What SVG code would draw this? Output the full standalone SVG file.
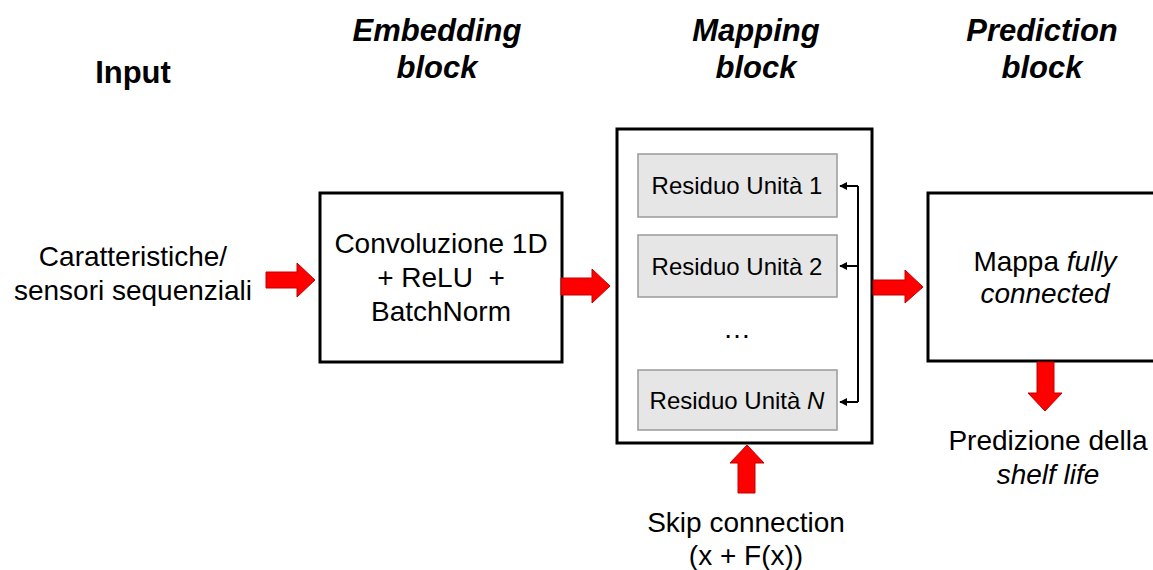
<svg xmlns="http://www.w3.org/2000/svg" width="1153" height="570" viewBox="0 0 1153 570">
<defs>
<style>
.title{font-family:"Liberation Sans",Arial,sans-serif;font-size:31px;font-weight:bold;fill:#000}
.ti{font-style:italic}
.body{font-family:"Liberation Sans",Arial,sans-serif;font-size:28px;fill:#000}
.res{font-family:"Liberation Sans",Arial,sans-serif;font-size:24px;fill:#000}
.box{fill:#fff;stroke:#000;stroke-width:3}
.unit{fill:#e6e6e6;stroke:#9a9a9a;stroke-width:1.5}
.red{fill:#ff0000;stroke:#c00000;stroke-width:1}
.blk{fill:none;stroke:#000;stroke-width:2}
</style>
<marker id="ah" viewBox="0 0 10 10" refX="9" refY="5" markerWidth="4" markerHeight="4" orient="auto" markerUnits="strokeWidth">
<path d="M0,0 L10,5 L0,10 z" fill="#000"/>
</marker>
</defs>
<rect width="1153" height="570" fill="#fff"/>

<g id="titles">
<text class="title" x="133" y="83" text-anchor="middle">Input</text>
<text class="title ti" x="437" y="41" text-anchor="middle">Embedding</text>
<text class="title ti" x="437" y="78" text-anchor="middle">block</text>
<text class="title ti" x="756" y="41" text-anchor="middle">Mapping</text>
<text class="title ti" x="756" y="78" text-anchor="middle">block</text>
<text class="title ti" x="1042" y="41" text-anchor="middle">Prediction</text>
<text class="title ti" x="1042" y="78" text-anchor="middle">block</text>
</g>

<g id="input">
<text class="body" x="133" y="266" text-anchor="middle">Caratteristiche/</text>
<text class="body" x="133" y="300" text-anchor="middle">sensori sequenziali</text>
</g>

<g id="embedding">
<rect class="box" x="320" y="193" width="242" height="169"/>
<text class="body" x="441" y="253" text-anchor="middle">Convoluzione 1D</text>
<text class="body" x="441" y="287" text-anchor="middle" xml:space="preserve">+ ReLU  +</text>
<text class="body" x="441" y="321" text-anchor="middle">BatchNorm</text>
</g>

<g id="mapping">
<rect class="box" x="617" y="129" width="255" height="314"/>
<g id="unit1">
<rect class="unit" x="638" y="154" width="199" height="63"/>
<text class="res" x="737" y="194" text-anchor="middle">Residuo Unità 1</text>
</g>
<g id="unit2">
<rect class="unit" x="638" y="235" width="199" height="62"/>
<text class="res" x="737" y="275" text-anchor="middle">Residuo Unità 2</text>
</g>
<text class="body" x="737" y="338" text-anchor="middle">…</text>
<g id="unitN">
<rect class="unit" x="638" y="370" width="199" height="60"/>
<text class="res" x="737" y="409" text-anchor="middle">Residuo Unità <tspan font-style="italic">N</tspan></text>
</g>
</g>

<g id="prediction">
<rect class="box" x="928" y="193" width="240" height="168"/>
<text class="body" x="1045" y="271" text-anchor="middle">Mappa <tspan font-style="italic">fully</tspan></text>
<text class="body" x="1045" y="303" text-anchor="middle" font-style="italic">connected</text>
</g>

<g id="output">
<text class="body" x="1048" y="450" text-anchor="middle">Predizione della</text>
<text class="body" x="1048" y="484" text-anchor="middle" font-style="italic">shelf life</text>
</g>

<g id="skip">
<text class="body" x="746" y="532" text-anchor="middle">Skip connection</text>
<text class="body" x="746" y="565" text-anchor="middle">(x + F(x))</text>
</g>

<g id="connectors">
<path class="red" d="M266,272 H297 V263 L315,280 L297,297 V288 H266 Z"/>
<path class="red" d="M561,278 H592 V269 L610,286 L592,303 V295 H561 Z"/>
<path class="red" d="M873,280 H905 V270 L923,287 L905,303 V295 H873 Z"/>
<path class="red" d="M1037,362 V393 H1028 L1045,411 L1062,393 H1054 V362 Z"/>
<path class="red" d="M738,493 V463 H730 L747,445 L764,463 H755 V493 Z"/>
<path class="blk" d="M858,186 V402"/>
<path class="blk" d="M858,186 H840" marker-end="url(#ah)"/>
<path class="blk" d="M858,266 H840" marker-end="url(#ah)"/>
<path class="blk" d="M858,402 H840" marker-end="url(#ah)"/>
</g>
</svg>
